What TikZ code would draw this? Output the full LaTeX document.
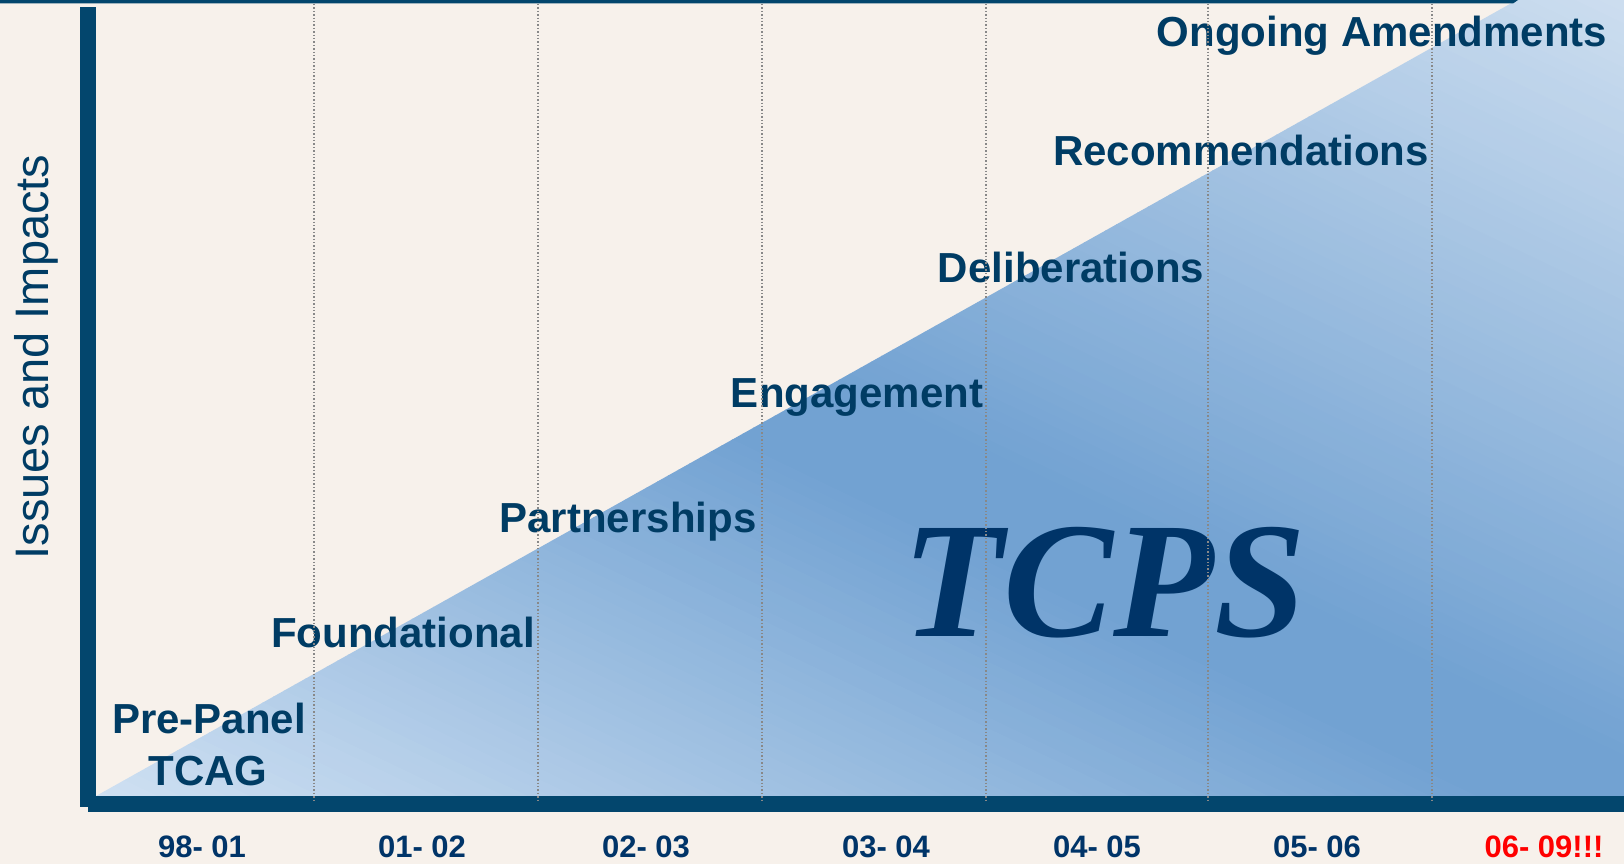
\documentclass[tikz,border=0pt]{standalone}
\usepackage{fontspec}
\setmainfont{Liberation Sans}
\newfontfamily\serifbi{Liberation Serif}
\definecolor{bgc}{HTML}{F7F1EB}
\definecolor{barc}{HTML}{03466D}
\definecolor{txtc}{HTML}{003C64}
\definecolor{tcpsc}{HTML}{003468}
\definecolor{dotc}{HTML}{888888}
\definecolor{gDark}{HTML}{72A2D2}
\definecolor{gTR}{HTML}{CCDDEF}
\definecolor{gBL}{HTML}{CFE0F2}
\definecolor{redc}{HTML}{FF0000}
\tikzset{
  stage/.style={inner sep=0pt, anchor=base, text=txtc, font=\bfseries\fontsize{42}{46}\selectfont},
  year/.style={inner sep=0pt, anchor=base, text=tcpsc, font=\bfseries\fontsize{31}{34}\selectfont},
  gridline/.style={draw=dotc, line width=1.4pt, dotted},
  axisbar/.style={fill=barc}
}
\begin{document}
\begin{tikzpicture}[x=1pt,y=-1pt]
\useasboundingbox (0,0) rectangle (1624,864);
\fill[bgc] (0,0) rectangle (1624,864);
% gradient triangle
\begin{scope}
  \clip (96,796) -- (1624,796) -- (1624,0) -- (1517,0) -- cycle;
  \begin{scope}[shift={(1100,560)}, rotate=-25.6]
    \foreach \b in {-900,-890,...,800} {
      \pgfmathsetmacro{\t}{\b<0 ? max(0,min(100,(-\b-50)/6.8)) : max(0,min(100,(\b-40)/6.0))}
      \pgfmathtruncatemacro{\p}{round(\t)}
      \ifdim\b pt<0pt
        \fill[gTR!\p!gDark] (-2500,\b) rectangle (2500,\b+10.6);
      \else
        \fill[gBL!\p!gDark] (-2500,\b) rectangle (2500,\b+10.6);
      \fi
    }
  \end{scope}
\end{scope}
% top bar
\fill[barc] (0,0) -- (1518,0) -- (1513,3.5) -- (0,3.5) -- cycle;
% stage labels
\node[stage] (pre) at (209,733) {Pre-Panel};
\node[stage] (tcag) at (208,785) {TCAG};
\node[stage] (found) at (403,647) {Foundational};
\node[stage] (partner) at (628,532) {Partnerships};
\node[stage] (engage) at (857,407) {Engagement};
\node[stage] (delib) at (1071,282) {Deliberations};
\node[stage] (recom) at (1241,165) {Recommendations};
\node[stage] (ongoing) at (1382,47) {Ongoing Amendments};
% TCPS
\node[inner sep=0pt, anchor=base, text=tcpsc, font=\serifbi\bfseries\itshape\fontsize{165}{170}\selectfont] (tcps) at (1104,636) {TCPS};
% y axis label
\node[inner sep=0pt, anchor=base, rotate=90, text=txtc, font=\fontsize{47}{50}\selectfont] (yl) at (48,357) {Issues and Impacts};
% year labels
\node[year] (y1) at (202,857) {98- 01};
\node[year] (y2) at (422,857) {01- 02};
\node[year] (y3) at (646,857) {02- 03};
\node[year] (y4) at (886,857) {03- 04};
\node[year] (y5) at (1097,857) {04- 05};
\node[year] (y6) at (1317,857) {05- 06};
\node[year, text=redc] (y7) at (1544,857) {06- 09!!!};
% axes
\fill[axisbar] (80,7) rectangle (96,807);
\fill[axisbar] (88,796) rectangle (1624,812);
% grid lines
\foreach \gx in {314,538,762,986,1208,1432} {
  \draw[gridline] (\gx,4) -- (\gx,802);
}
\end{tikzpicture}
\end{document}
